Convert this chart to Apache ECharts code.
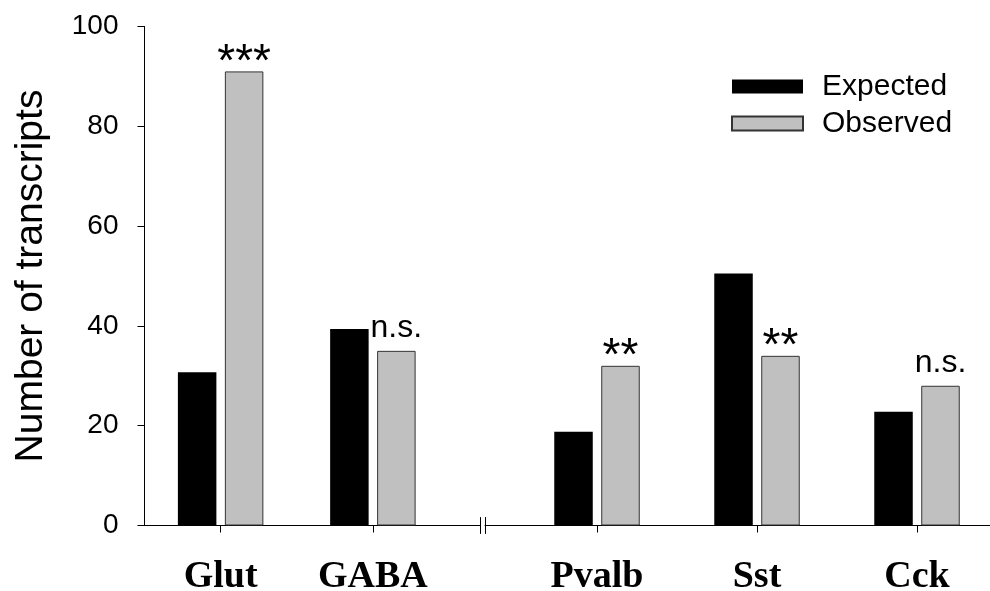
<!DOCTYPE html>
<html><head><meta charset="utf-8">
<script src="https://cdn.jsdelivr.net/npm/echarts@6/dist/echarts.min.js"></script>
<style>html,body{margin:0;padding:0;background:#fff}#c{width:990px;height:591px}</style>
</head><body><div id="c"></div>
<script>
// ---- data ----
const leftCategories = ['Glut', 'GABA'];
const rightCategories = ['Pvalb', 'Sst', 'Cck'];
const seriesNames = ['Expected', 'Observed'];
const expectedLeft = [30.7, 39.4];
const observedLeft = [91, 35];
const expectedRight = [18.8, 50.5, 22.8];
const observedRight = [32, 34, 28];
const sigLeft = ['***', 'n.s.'];
const sigRight = ['**', '**', 'n.s.'];
const yMin = 0, yMax = 100, yInterval = 20;
const yAxisTitle = 'Number of transcripts';

// ---- styles ----
const SANS = 'Liberation Sans';
const SERIF = 'Liberation Serif';
const BLACK = '#000000';
const GRAY = '#c0c0c0';
const PLOT_TOP = 26.5, PLOT_H = 499;

function sigData(values, sigs) {
  return values.map((v, i) => {
    const star = sigs[i].charAt(0) === '*';
    return {
      value: v,
      label: star
        ? { formatter: sigs[i], fontSize: 46, lineHeight: 20, distance: -1.5 }
        : { formatter: sigs[i], fontSize: 32, lineHeight: 32, distance: 7 }
    };
  });
}

const hiddenAxisParts = {
  axisLine: { show: false }, axisTick: { show: false },
  axisLabel: { show: false }, splitLine: { show: false }
};

const catX = (idx, cats) => ({
  type: 'category', gridIndex: idx, data: cats,
  axisLine: { show: false },
  axisTick: { show: true, alignWithLabel: true, length: 7, lineStyle: { color: BLACK, width: 1 } },
  axisLabel: { color: BLACK, fontFamily: SERIF, fontWeight: 'bold', fontSize: 38, margin: 33 },
  splitLine: { show: false }
});

const valY = (idx, visible) => Object.assign({
  type: 'value', gridIndex: idx, min: yMin, max: yMax, interval: yInterval
}, visible ? {
  name: yAxisTitle, nameLocation: 'middle', nameGap: 94,
  nameTextStyle: { color: BLACK, fontFamily: SANS, fontSize: 39 },
  axisLine: { show: true, lineStyle: { color: BLACK, width: 1 } },
  axisTick: { show: true, length: 7, lineStyle: { color: BLACK, width: 1 } },
  axisLabel: { color: BLACK, fontFamily: SANS, fontSize: 28, margin: 26 },
  splitLine: { show: false }
} : hiddenAxisParts);

const lineX = (idx) => ({
  type: 'value', gridIndex: idx, min: 0, max: 1,
  axisLine: { show: true, onZero: true, lineStyle: { color: BLACK, width: 1 } },
  axisTick: { show: false }, axisLabel: { show: false }, splitLine: { show: false }
});
const breakY = (idx, pos) => ({
  type: 'value', gridIndex: idx, min: -1, max: 1, position: pos,
  axisLine: { show: true, onZero: false, lineStyle: { color: BLACK, width: 1 } },
  axisTick: { show: false }, axisLabel: { show: false }, splitLine: { show: false }
});

const barCommon = { type: 'bar', barWidth: 38.5, barGap: '22%' };
const expStyle = { color: BLACK };
const obsStyle = { color: GRAY, borderColor: '#333333', borderWidth: 1 };
const obsLabel = { show: true, position: 'top', color: BLACK, fontFamily: SANS };

const option = {
  backgroundColor: '#ffffff',
  animation: false,
  grid: [
    { left: 144.5, top: PLOT_TOP, width: 304.5, height: PLOT_H, outerBoundsMode: 'none' },
    { left: 517, top: PLOT_TOP, width: 480, height: PLOT_H, outerBoundsMode: 'none' },
    { left: 144.5, top: PLOT_TOP + PLOT_H - 8, width: 336, height: 16, outerBoundsMode: 'none' },
    { left: 485, top: PLOT_TOP + PLOT_H - 8, width: 510, height: 16, outerBoundsMode: 'none' }
  ],
  xAxis: [catX(0, leftCategories), catX(1, rightCategories), lineX(2), lineX(3)],
  yAxis: [valY(0, true), valY(1, false), breakY(2, 'right'), breakY(3, 'left')],
  legend: {
    data: seriesNames, orient: 'vertical', left: 731, top: 71.5, padding: 0,
    itemWidth: 71, itemHeight: 14, itemGap: 7, icon: 'rect',
    textStyle: { color: BLACK, fontFamily: SANS, fontSize: 30, lineHeight: 28, padding: [0, 0, 0, 14] }
  },
  series: [
    Object.assign({}, barCommon, { name: seriesNames[0], xAxisIndex: 0, yAxisIndex: 0, data: expectedLeft, itemStyle: expStyle }),
    Object.assign({}, barCommon, { name: seriesNames[1], xAxisIndex: 0, yAxisIndex: 0, data: sigData(observedLeft, sigLeft), itemStyle: obsStyle, label: obsLabel }),
    Object.assign({}, barCommon, { name: seriesNames[0], xAxisIndex: 1, yAxisIndex: 1, data: expectedRight, itemStyle: expStyle }),
    Object.assign({}, barCommon, { name: seriesNames[1], xAxisIndex: 1, yAxisIndex: 1, data: sigData(observedRight, sigRight), itemStyle: obsStyle, label: obsLabel })
  ]
};

const chart = echarts.init(document.getElementById('c'), null, { renderer: 'canvas' });
chart.setOption(option);
</script>
</body></html>
